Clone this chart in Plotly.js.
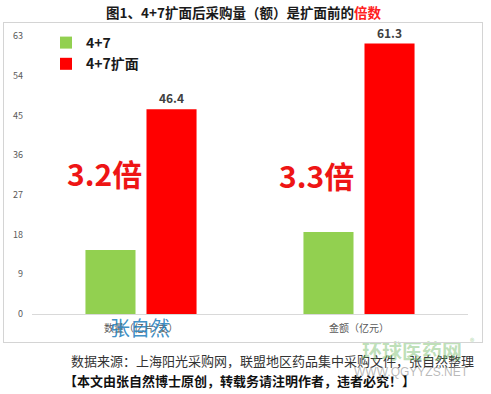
<!DOCTYPE html>
<html>
<head>
<meta charset="utf-8">
<script src="https://cdn.plot.ly/plotly-3.0.1.min.js"></script>
<style>
html,body{margin:0;padding:0;background:#fff;}
#wrap{position:relative;width:491px;height:394px;}
#chart{width:491px;height:394px;}
#frame{position:absolute;left:3px;top:22px;width:478px;height:319px;border:1.5px solid #d4d4d4;pointer-events:none;}
</style>
</head>
<body>
<div id="wrap"><div id="chart"></div><div id="frame"></div></div>
<script>
const categories = ["数量（亿片/支）", "金额（亿元）"];
const seriesNames = ["4+7", "4+7扩面"];
const before = [14.5, 18.6];
const after = [46.4, 61.3];
const multiples = ["3.2倍", "3.3倍"];
const yTicks = [0, 9, 18, 27, 36, 45, 54, 63];

const CJK = '"Noto Sans CJK SC", "Noto Sans", sans-serif';

const traces = [
  {type: 'bar', name: seriesNames[0], x: categories, y: before,
   marker: {color: '#92d050'}, hoverinfo: 'y'},
  {type: 'bar', name: seriesNames[1], x: categories, y: after,
   marker: {color: '#ff0000'},
   text: after.map(v => v.toFixed(1)), textposition: 'outside',
   textfont: {family: CJK, size: 12, color: '#404040', weight: 'bold'},
   cliponaxis: false, hoverinfo: 'y'}
];

const px = x => (x - 32) / 436;
const py = y => (314 - y) / 278;

const multAnn = [
  {x: px(104), y: py(173)},
  {x: px(316), y: py(175)}
].map((p, i) => ({
  xref: 'paper', yref: 'paper', x: p.x, y: p.y, xanchor: 'center', yanchor: 'middle',
  showarrow: false,
  text: '<b>' + multiples[i] + '</b>',
  font: {family: CJK, size: 30, color: '#ee1515'}
}));

const txt = (x, y, text, font) => ({xref: 'paper', yref: 'paper', x: px(x), y: py(y),
  xanchor: 'center', yanchor: 'middle', showarrow: false, text: text, font: font});

const layout = {
  width: 491, height: 394,
  margin: {l: 32, r: 23, t: 36, b: 80},
  paper_bgcolor: '#ffffff', plot_bgcolor: '#ffffff',
  font: {family: CJK, color: '#595959'},
  title: {
    text: '<b>图1、4+7扩面后采购量（额）是扩面前的<span style="color:#ff2020">倍数</span></b>',
    font: {family: CJK, size: 13.5, color: '#1a1a1a'},
    x: 243.5/491, xref: 'container', xanchor: 'center',
    y: 1 - 13/394, yref: 'container', yanchor: 'middle'
  },
  barmode: 'group', bargap: 0.44, bargroupgap: 0.18,
  showlegend: true,
  legend: {
    x: px(46), y: py(27), xanchor: 'left', yanchor: 'top',
    font: {family: CJK, size: 14, color: '#1a1a1a', weight: 'bold'},
    bgcolor: 'rgba(0,0,0,0)', tracegroupgap: 0, itemwidth: 30
  },
  xaxis: {
    type: 'category', showgrid: false, zeroline: false,
    showline: true, linecolor: '#d9d9d9', linewidth: 1,
    ticks: '', ticklabelstandoff: 5,
    tickfont: {family: CJK, size: 10, color: '#595959'}
  },
  yaxis: {
    range: [0, 63], tickvals: yTicks, ticktext: yTicks.map(String),
    showgrid: false, zeroline: false, showline: false, ticks: '',
    ticklabelstandoff: 8,
    tickfont: {family: CJK, size: 9, color: '#595959'}
  },
  annotations: multAnn.concat([
    txt(140, 327, '张自然', {family: CJK, size: 20, color: 'rgba(40,130,190,0.9)'}),
    txt(272, 360, '数据来源：上海阳光采购网，联盟地区药品集中采购文件，张自然整理',
        {family: CJK, size: 13, color: '#333333'}),
    txt(239, 380, '<b>【本文由张自然博士原创，转载务请注明作者，违者必究！】</b>',
        {family: CJK, size: 13, color: '#111111'}),
    txt(412, 350, '<b>环球医药网</b>', {family: CJK, size: 20, color: 'rgba(110,185,95,0.45)'}),
    txt(472, 341, '®', {family: CJK, size: 9, color: 'rgba(110,185,95,0.6)'}),
    txt(411, 372, 'WWW.QGYYZS.NET', {family: '"Liberation Sans", sans-serif', size: 12, color: 'rgba(140,140,140,0.6)'})
  ])
};

Plotly.newPlot('chart', traces, layout, {displayModeBar: false, staticPlot: true});
</script>
</body>
</html>
